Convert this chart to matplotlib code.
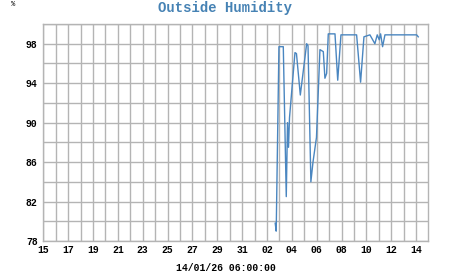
import matplotlib
matplotlib.use("Agg")
import matplotlib.pyplot as plt
from matplotlib.ticker import MultipleLocator, FixedLocator

# days since 15 Dec (0 = 15/12), humidity %
days = [18.66, 18.74, 18.96, 19.31, 19.55, 19.65, 19.73, 19.81, 20.25, 20.37,
        20.68, 21.19, 21.30, 21.53, 21.70, 21.98, 22.26, 22.53, 22.66, 22.80,
        22.93, 23.47, 23.69, 23.95, 25.21, 25.53, 25.80, 26.28, 26.68, 26.87,
        27.03, 27.14, 27.30, 27.49, 30.04, 30.17]
humidity = [79.8, 79.0, 97.7, 97.7, 82.5, 90.0, 87.5, 90.5, 97.1, 97.0,
            92.8, 98.0, 97.8, 84.0, 86.0, 88.5, 97.4, 97.2, 94.5, 95.0,
            99.0, 99.0, 94.3, 98.9, 98.9, 94.1, 98.7, 98.9, 98.0, 98.9,
            98.4, 99.0, 97.7, 98.9, 98.9, 98.7]

x_tick_pos = [0, 2, 4, 6, 8, 10, 12, 14, 16, 18, 20, 22, 24, 26, 28, 30]
x_tick_labels = ["15", "17", "19", "21", "23", "25", "27", "29", "31",
                 "02", "04", "06", "08", "10", "12", "14"]
y_ticks = [78, 82, 86, 90, 94, 98]

title = "Outside Humidity"
xlabel = "14/01/26 06:00:00"
unit = "%"

mono = ["Liberation Mono", "DejaVu Sans Mono"]

fig = plt.figure(figsize=(4.51, 2.75), dpi=100)
ax = fig.add_axes([43.3 / 451, 1 - 241 / 275, (427.7 - 43.3) / 451, (241 - 24) / 275])

ax.plot(days, humidity, color="#4a86c0", lw=1.0)

ax.set_xlim(0, 30.93)
ax.set_ylim(78, 100)
ax.xaxis.set_major_locator(FixedLocator(x_tick_pos))
ax.set_xticklabels(x_tick_labels)
ax.xaxis.set_minor_locator(MultipleLocator(1))
ax.yaxis.set_major_locator(FixedLocator(y_ticks))
ax.yaxis.set_minor_locator(MultipleLocator(2))
ax.grid(True, which="both", color="#b4b4b4", lw=1.0)
ax.set_axisbelow(True)
for s in ax.spines.values():
    s.set_color("#b4b4b4")
    s.set_linewidth(1.0)
ax.tick_params(which="both", length=0, labelsize=7, pad=3, colors="#000000")
ax.tick_params(axis="y", pad=4)
for lab in ax.get_xticklabels() + ax.get_yticklabels():
    lab.set_family(mono)
    lab.set_fontweight("bold")

fig.text(0.5, 1 - 8 / 275, title, ha="center", va="center", color="#4682b4",
         fontsize=10, fontweight="bold", family=mono)
fig.text(0.5, 1 - 268 / 275, xlabel, ha="center", va="center", color="#000000",
         fontsize=7, fontweight="bold", family=mono)
fig.text(13 / 451, 1 - 5 / 275, unit, ha="center", va="center", color="#000000",
         fontsize=5, family=mono)

fig.savefig("out.png", dpi=100)
